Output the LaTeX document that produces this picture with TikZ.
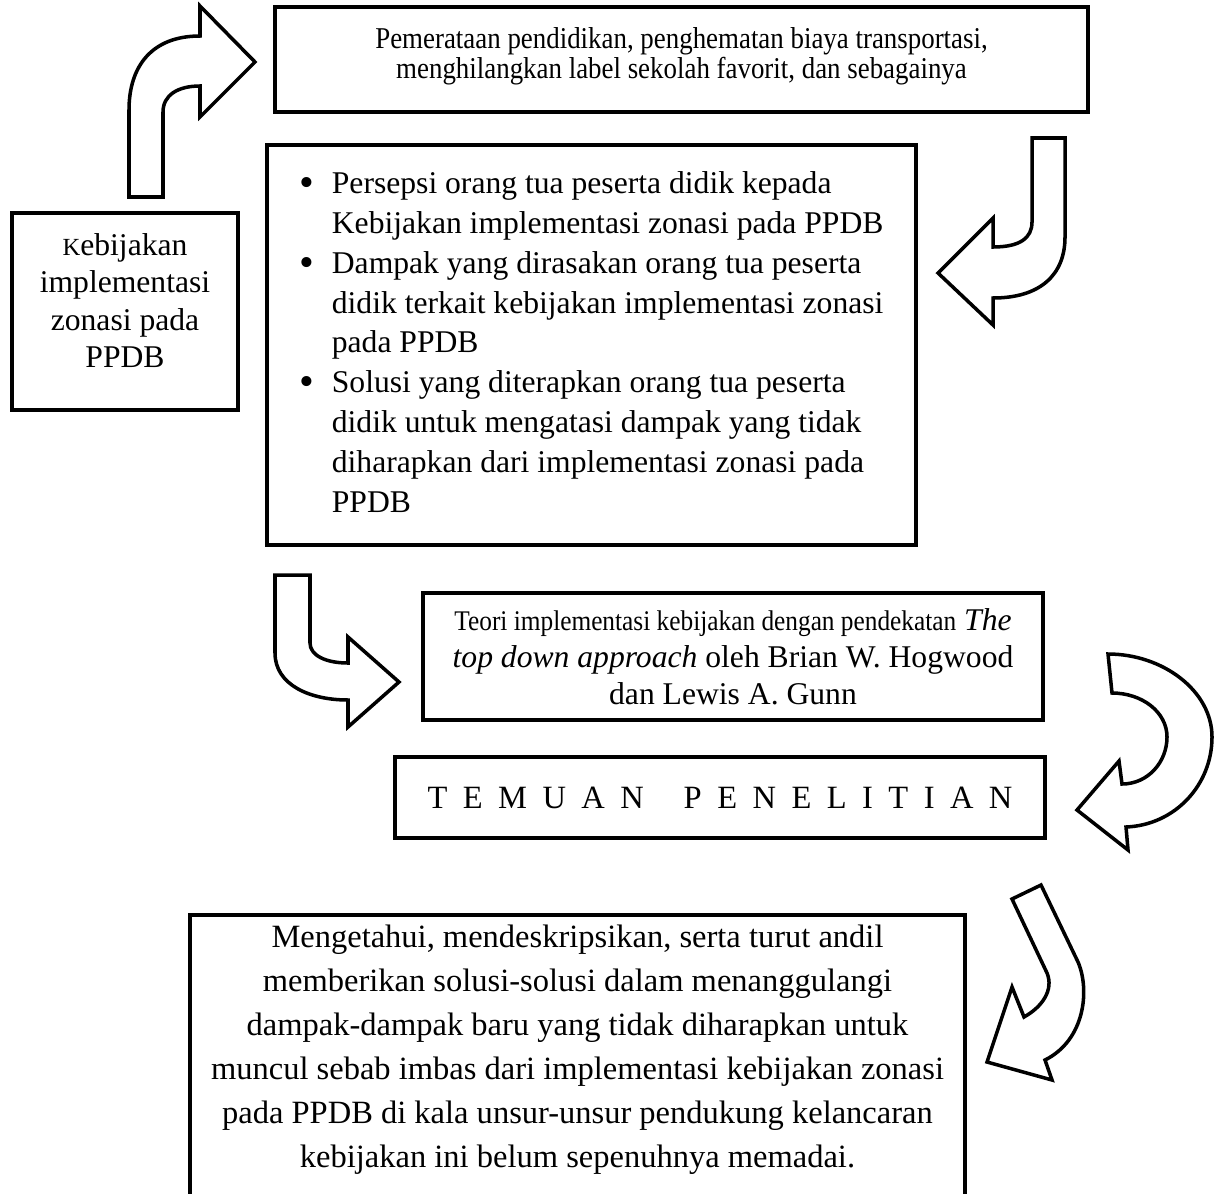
\documentclass[tikz,border=0pt]{standalone}
\usepackage{fontspec}
\setmainfont{Liberation Serif}
\newfontfamily\narrowserif[FakeStretch=0.89]{Liberation Serif}
\tikzset{
  boxline/.style={draw=black, line width=2pt},
  tbox/.style={boxline, fill=white, inner sep=0pt},
  barrow/.style={draw=black, fill=white, line width=2pt, line join=miter},
}
\newcommand{\bigbullet}{\raisebox{-1.6pt}{\fontsize{24}{22.7}\selectfont\textbullet}}
\begin{document}
\begin{tikzpicture}[x=0.02cm,y=-0.02cm]
\useasboundingbox (0,0) rectangle (1222,1193);

% boxes
\node[tbox, minimum width=16.26cm, minimum height=2.1cm] (top) at (681.5,59.5) {};
\node[inner sep=0pt, align=center, font=\narrowserif\fontsize{17.2}{17}\selectfont] (toptext) at (681.5,56)
  {Pemerataan pendidikan, penghematan biaya transportasi,\\
   menghilangkan label sekolah favorit, dan sebagainya};

\node[tbox, minimum width=4.52cm, minimum height=3.94cm] (policy) at (125,311.5) {};
\node[inner sep=0pt, align=center, font=\fontsize{18}{21.3}\selectfont] (policytext) at (125,300.5)
  {{\fontsize{14}{21.3}\selectfont K}ebijakan\\implementasi\\zonasi pada\\PPDB};

\node[tbox, minimum width=12.98cm, minimum height=8cm,
      font=\fontsize{18}{22.7}\selectfont] (focus) at (591.5,345)
  {\begin{tabular}{@{}l@{\hspace{10pt}}l@{}}
   \bigbullet & Persepsi orang tua peserta didik kepada\\
              & Kebijakan implementasi zonasi pada PPDB\\
   \bigbullet & Dampak yang dirasakan orang tua peserta\\
              & didik terkait kebijakan implementasi zonasi\\
              & pada PPDB\\
   \bigbullet & Solusi yang diterapkan orang tua peserta\\
              & didik untuk mengatasi dampak yang tidak\\
              & diharapkan dari implementasi zonasi pada\\
              & PPDB
   \end{tabular}};

\node[tbox, align=center, minimum width=12.4cm, minimum height=2.54cm,
      font=\fontsize{18}{21}\selectfont] (theory) at (733,656.5)
  {{\narrowserif\fontsize{16.2}{21}\selectfont Teori implementasi kebijakan dengan pendekatan} \textit{The}\\
   \textit{top down approach} oleh Brian W. Hogwood\\
   dan Lewis A. Gunn};

\node[tbox, minimum width=13cm, minimum height=1.62cm,
      font=\fontsize{18.5}{21}\selectfont] (findings) at (720,797.5)
  {\spaceskip=8.8pt T E M U A N\hspace{22.7pt}P E N E L I T I A N};

\node[inner sep=0pt, align=center, font=\fontsize{18.5}{25}\selectfont] (goal) at (577.5,1050)
  {Mengetahui, mendeskripsikan, serta turut andil\\
   memberikan solusi-solusi dalam menanggulangi\\
   dampak-dampak baru yang tidak diharapkan untuk\\
   muncul sebab imbas dari implementasi kebijakan zonasi\\
   pada PPDB di kala unsur-unsur pendukung kelancaran\\
   kebijakan ini belum sepenuhnya memadai.};
\draw[boxline] (190,1196) -- (190,915) -- (965,915) -- (965,1196);

% block arrows
\draw[barrow] (129,197) -- (129,110) .. controls (129,66) and (152,36) .. (200,36)
  -- (200,6) -- (255,62) -- (200,117) -- (200,86)
  .. controls (178,86) and (163,95) .. (163,112) -- (163,197) -- cycle;

\draw[barrow] (1032,138) -- (1065,138) -- (1065,237)
  .. controls (1065,275) and (1040,298) .. (993,298)
  -- (993,325) -- (938,273) -- (993,218) -- (993,247)
  .. controls (1020,247) and (1032,238) .. (1032,222) -- cycle;

\draw[barrow] (275,575) -- (310,575) -- (310,643)
  .. controls (310,655) and (325,663) .. (348,663)
  -- (348,637) -- (399,682) -- (348,727) -- (348,700)
  .. controls (310,700) and (275,685) .. (275,653) -- cycle;

\draw[barrow] (1108,654) .. controls (1163,654) and (1212,691) .. (1212,737)
  .. controls (1212,785) and (1175,825) .. (1126,827)
  -- (1128,850) -- (1077,810) -- (1119,761) -- (1122,784)
  .. controls (1148,784) and (1167,762) .. (1167,737)
  .. controls (1167,712) and (1142,693) .. (1112,693) -- cycle;

\draw[barrow] (1012,899) -- (1041,885) -- (1078,962)
  .. controls (1090,990) and (1085,1040) .. (1045,1060)
  -- (1052,1080) -- (987,1062) -- (1012,987) -- (1024,1017)
  .. controls (1042,1007) and (1054,990) .. (1047,973) -- cycle;
\end{tikzpicture}
\end{document}
